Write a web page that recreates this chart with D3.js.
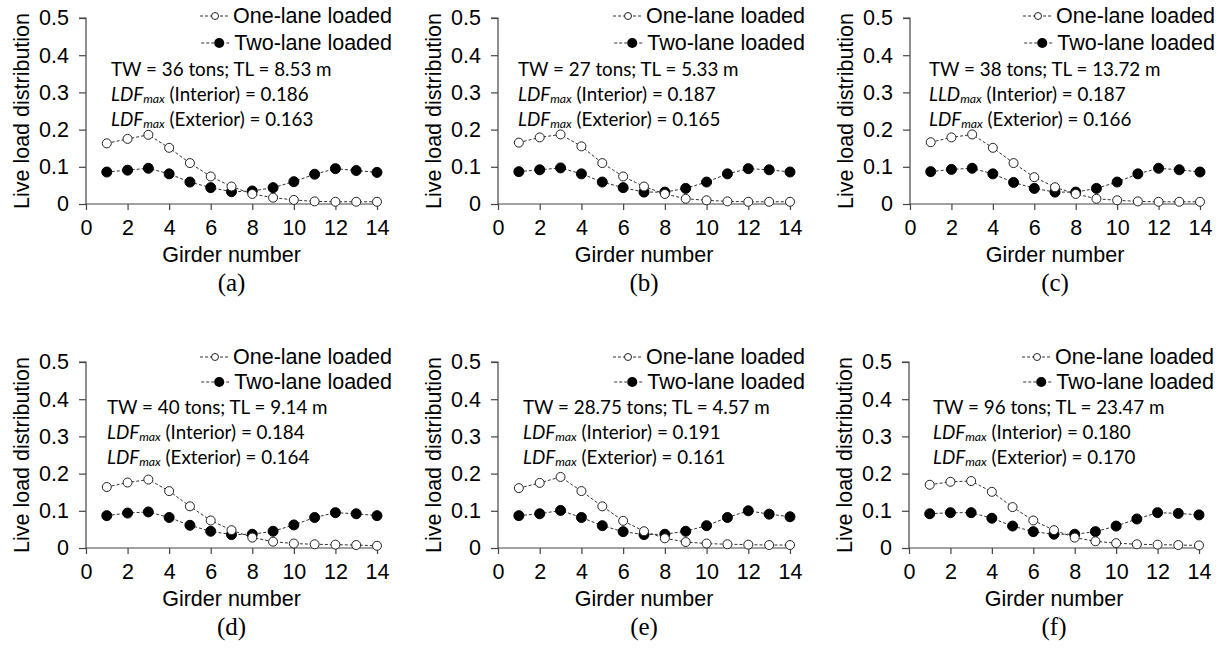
<!DOCTYPE html>
<html><head><meta charset="utf-8">
<script src="https://cdn.jsdelivr.net/npm/d3@7"></script>
<style>
html,body{margin:0;padding:0;background:#fff;}
svg{display:block;}
</style></head>
<body>
<svg id="chart" width="1226" height="649"></svg>
<script>
// ---------- data ----------
const girders = [1,2,3,4,5,6,7,8,9,10,11,12,13,14];
const xTicks = [0,2,4,6,8,10,12,14];
const yTicks = [0,0.1,0.2,0.3,0.4,0.5];
const yTickLabels = ["0","0.1","0.2","0.3","0.4","0.5"];
const seriesNames = ["One-lane loaded","Two-lane loaded"];
const panelLabels = ["(a)","(b)","(c)","(d)","(e)","(f)"];
const infoLine1 = ["TW = 36 tons; TL = 8.53 m","TW = 27 tons; TL = 5.33 m","TW = 38 tons; TL = 13.72 m",
                   "TW = 40 tons; TL = 9.14 m","TW = 28.75 tons; TL = 4.57 m","TW = 96 tons; TL = 23.47 m"];
const interiorPrefix = ["LDF","LDF","LLD","LDF","LDF","LDF"];
const interiorMax = ["0.186","0.187","0.187","0.184","0.191","0.180"];
const exteriorMax = ["0.163","0.165","0.166","0.164","0.161","0.170"];

const oneLaneA = [0.163,0.175,0.186,0.151,0.110,0.074,0.047,0.027,0.017,0.011,0.007,0.006,0.006,0.006];
const twoLaneA = [0.086,0.091,0.096,0.081,0.059,0.044,0.033,0.035,0.044,0.060,0.080,0.095,0.090,0.085];
const oneLaneB = [0.165,0.179,0.187,0.155,0.110,0.074,0.047,0.027,0.014,0.010,0.007,0.006,0.006,0.006];
const twoLaneB = [0.087,0.092,0.097,0.081,0.059,0.044,0.032,0.032,0.042,0.059,0.081,0.095,0.092,0.086];
const oneLaneC = [0.166,0.179,0.187,0.151,0.110,0.072,0.045,0.027,0.014,0.010,0.007,0.006,0.006,0.006];
const twoLaneC = [0.087,0.093,0.096,0.081,0.058,0.042,0.032,0.032,0.042,0.059,0.081,0.096,0.092,0.086];
const oneLaneD = [0.164,0.176,0.184,0.153,0.112,0.074,0.048,0.028,0.017,0.012,0.010,0.009,0.008,0.006];
const twoLaneD = [0.087,0.094,0.097,0.082,0.061,0.045,0.036,0.037,0.045,0.062,0.082,0.095,0.092,0.087];
const oneLaneE = [0.161,0.175,0.191,0.153,0.112,0.073,0.045,0.026,0.016,0.012,0.010,0.009,0.008,0.008];
const twoLaneE = [0.087,0.092,0.101,0.082,0.060,0.044,0.036,0.037,0.045,0.060,0.082,0.100,0.091,0.084];
const oneLaneF = [0.170,0.178,0.180,0.151,0.110,0.074,0.048,0.028,0.018,0.013,0.010,0.009,0.008,0.007];
const twoLaneF = [0.092,0.095,0.095,0.080,0.059,0.044,0.037,0.037,0.044,0.059,0.078,0.095,0.093,0.089];
const oneLane = [oneLaneA,oneLaneB,oneLaneC,oneLaneD,oneLaneE,oneLaneF];
const twoLane = [twoLaneA,twoLaneB,twoLaneC,twoLaneD,twoLaneE,twoLaneF];

// ---------- layout ----------
const layout = [
  {x0:86,  x1:377,  yTop:18,  yBot:204, annX:111, annY:76,  legY:5, legGap:27},
  {x0:498, x1:790,  yTop:18,  yBot:204, annX:518, annY:76,  legY:5, legGap:27},
  {x0:910, x1:1200, yTop:18,  yBot:204, annX:929, annY:76,  legY:5, legGap:27},
  {x0:86,  x1:377,  yTop:362, yBot:548, annX:107, annY:414, legY:2, legGap:25},
  {x0:498, x1:790,  yTop:362, yBot:548, annX:523, annY:414, legY:2, legGap:25},
  {x0:909, x1:1199, yTop:362, yBot:548, annX:933, annY:414, legY:2, legGap:25}
];

const svg = d3.select("#chart");
const axisColor = "#444";
const lineColor = "#333";
const sans = "'Liberation Sans', Arial, sans-serif";
const cal = "Lato, 'Open Sans', sans-serif";
const fsMain = 21.5;

layout.forEach((L, i) => {
  const x = d3.scaleLinear().domain([0,14]).range([L.x0, L.x1]);
  const y = d3.scaleLinear().domain([0,0.5]).range([L.yBot, L.yTop]);
  const g = svg.append("g");

  // y axis
  const ya = g.append("g").attr("transform",`translate(${L.x0},0)`)
    .call(d3.axisLeft(y).tickValues(yTicks).tickFormat((d,k)=>yTickLabels[k]).tickSize(7).tickPadding(10));
  // x axis
  const xa = g.append("g").attr("transform",`translate(0,${L.yBot})`)
    .call(d3.axisBottom(x).tickValues(xTicks).tickFormat(d3.format("d")).tickSize(6).tickPadding(10));
  [ya,xa].forEach(a=>{
    a.select(".domain").attr("stroke",axisColor).attr("stroke-width",1.2);
    a.selectAll(".tick line").attr("stroke",axisColor).attr("stroke-width",1.2);
    a.selectAll(".tick text").attr("font-family",sans).attr("font-size",fsMain).attr("fill","#000");
  });
  ya.select(".domain").attr("d",`M-7,${L.yTop}H0V${L.yBot}`);
  xa.select(".domain").attr("d",`M${L.x0},0H${L.x1}`);

  // axis titles
  g.append("text").attr("transform",`translate(${L.x0-65},${(L.yTop+L.yBot)/2}) rotate(-90)`)
    .attr("text-anchor","middle").attr("dy","0.35em")
    .attr("font-family",sans).attr("font-size",fsMain).attr("fill","#000").text("Live load distribution");
  g.append("text").attr("x",(L.x0+L.x1)/2).attr("y",L.yBot+58).attr("text-anchor","middle")
    .attr("font-family",sans).attr("font-size",fsMain).attr("fill","#000").text("Girder number");
  g.append("text").attr("x",(L.x0+L.x1)/2).attr("y",L.yBot+87).attr("text-anchor","middle")
    .attr("font-family","'Liberation Serif','Times New Roman',serif").attr("font-size",25).attr("fill","#000").text(panelLabels[i]);

  // lines
  const line = d3.line().x((d,k)=>x(girders[k])).y(d=>y(d));
  [oneLane[i], twoLane[i]].forEach((s,si)=>{
    g.append("path").attr("d",line(s)).attr("fill","none").attr("stroke",lineColor)
      .attr("stroke-width",1).attr("stroke-dasharray","3,2");
  });
  g.selectAll(null).data(twoLane[i]).enter().append("circle")
    .attr("cx",(d,k)=>x(girders[k])).attr("cy",d=>y(d)).attr("r",5)
    .attr("fill","#000").attr("stroke","#000");
  g.selectAll(null).data(oneLane[i]).enter().append("circle")
    .attr("cx",(d,k)=>x(girders[k])).attr("cy",d=>y(d)).attr("r",4.5)
    .attr("fill","#fff").attr("stroke","#222").attr("stroke-width",1);

  // legend
  seriesNames.forEach((nm,si)=>{
    const ty = L.yTop + L.legY + si*L.legGap;
    const t = g.append("text").attr("x",L.x1+15).attr("y",ty).attr("text-anchor","end")
      .attr("font-family",sans).attr("font-size",fsMain).attr("fill","#000").text(nm);
    const w = t.node().getComputedTextLength();
    const sx = L.x1+15-w;
    g.append("line").attr("x1",sx-33).attr("x2",sx-3).attr("y1",ty-7).attr("y2",ty-7)
      .attr("stroke",lineColor).attr("stroke-width",1).attr("stroke-dasharray","3,2");
    const cx = sx - 18 + (si===1?3:0);
    if (si===0) g.append("circle").attr("cx",cx).attr("cy",ty-7).attr("r",3.5).attr("fill","#fff").attr("stroke","#222");
    else g.append("circle").attr("cx",cx).attr("cy",ty-7).attr("r",5).attr("fill","#000");
  });

  // annotation
  const fs = 18.8;
  g.append("text").attr("x",L.annX).attr("y",L.annY).attr("font-family",cal).attr("font-size",fs).attr("fill","#000").text(infoLine1[i]);
  const rows = [["Interior",interiorPrefix[i],interiorMax[i]],["Exterior","LDF",exteriorMax[i]]];
  rows.forEach((r,ri)=>{
    const t = g.append("text").attr("x",L.annX).attr("y",L.annY+25*(ri+1)).attr("font-family",cal).attr("font-size",fs).attr("fill","#000");
    t.append("tspan").attr("font-style","italic").text(r[1]);
    t.append("tspan").attr("font-style","italic").attr("font-size",fs*0.65).attr("dy",2).text("max");
    t.append("tspan").attr("dy",-2).text(` (${r[0]}) = ${r[2]}`);
  });
});
</script>
</body></html>
